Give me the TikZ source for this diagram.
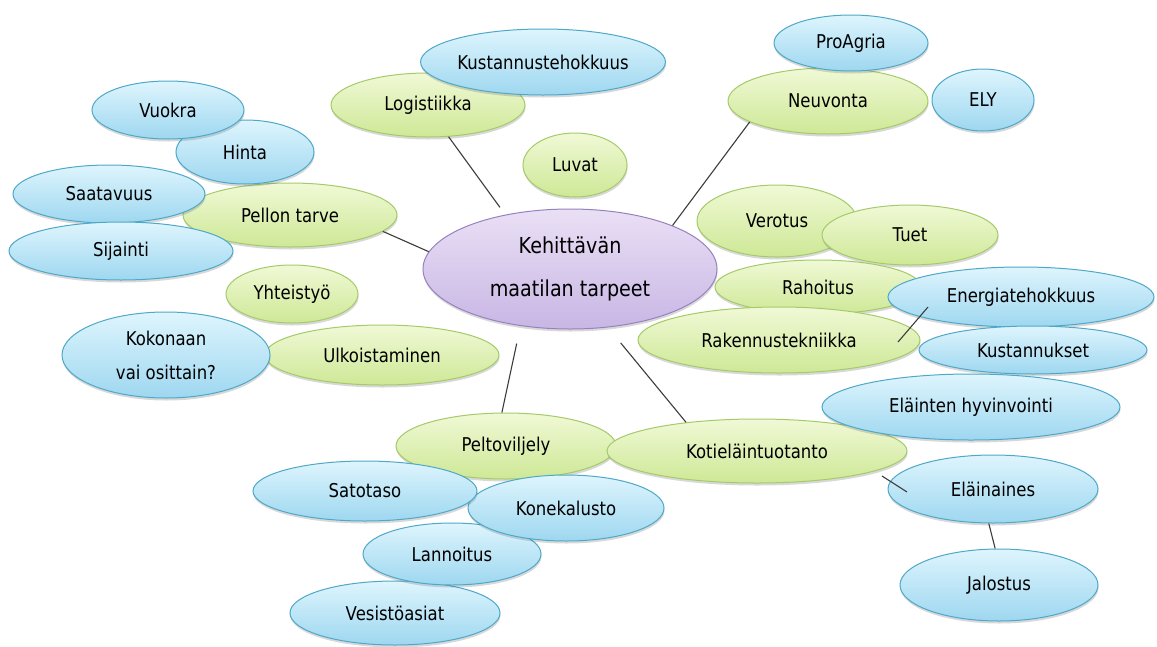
\documentclass[tikz,border=0pt]{standalone}
\usepackage{fontspec}
\setmainfont{DejaVu Sans}[FakeStretch=0.87]
\usetikzlibrary{shapes.geometric,shadows}
\definecolor{bluetop}{RGB}{222,245,253}
\definecolor{bluebot}{RGB}{158,215,240}
\definecolor{blueline}{RGB}{78,168,200}
\definecolor{greentop}{RGB}{240,249,214}
\definecolor{greenbot}{RGB}{206,232,150}
\definecolor{greenline}{RGB}{165,203,105}
\definecolor{purptop}{RGB}{234,224,245}
\definecolor{purpbot}{RGB}{200,182,228}
\definecolor{purpline}{RGB}{150,130,192}
\definecolor{connc}{RGB}{60,60,60}
\tikzset{
  bub/.style={ellipse, inner sep=1pt, line width=1pt, align=center,
    font=\fontsize{19}{34}\selectfont,
    drop shadow={shadow xshift=0.5pt, shadow yshift=-2.5pt, opacity=0.25, fill=black!60}},
  gb/.style={bub, draw=greenline, top color=greentop, bottom color=greenbot},
  bb/.style={bub, draw=blueline, top color=bluetop, bottom color=bluebot},
  pb/.style={bub, draw=purpline, top color=purptop, bottom color=purpbot,
    font=\fontsize{22}{43}\selectfont},
  sz/.style 2 args={minimum width=#1pt, minimum height=#2pt},
  conn/.style={draw=connc, line width=1.1pt}
}
\begin{document}
\begin{tikzpicture}[x=1pt,y=-1pt]
\useasboundingbox[fill=white] (0,0) rectangle (1157,646);
% central node
\node[pb, sz={294}{120}] (cen) at (570,269) {Kehittävän\\maatilan tarpeet};
% green nodes
\node[gb, sz={194}{64}] (log) at (428,105) {Logistiikka};
\node[gb, sz={104}{64}] (luv) at (575,165) {Luvat};
\node[gb, sz={200}{66}] (neu) at (828,101) {Neuvonta};
\node[gb, sz={220}{66}] (pv) at (506,446) {Peltoviljely};
\node[gb, sz={300}{64}] (kot) at (757,451) {Kotieläintuotanto};
\node[gb, sz={160}{72}] (ver) at (777,221) {Verotus};
\node[gb, sz={176}{60}] (tue) at (910,235) {Tuet};
\node[gb, sz={206}{54}] (rah) at (818,287) {Rahoitus};
\node[gb, sz={282}{66}] (rak) at (779,340) {Rakennustekniikka};
\node[gb, sz={214}{64}] (pel) at (290,215) {Pellon tarve};
\node[gb, sz={132}{58}] (yht) at (292,294) {Yhteistyö};
\node[gb, sz={234}{60}] (ulk) at (382,355) {Ulkoistaminen};
% blue nodes
\node[bb, sz={242}{66}] (kus) at (543,62) {Kustannustehokkuus};
\node[bb, sz={154}{56}] (pro) at (851,43) {ProAgria};
\node[bb, sz={102}{62}] (ely) at (983,100) {ELY};
\node[bb, sz={138}{64}] (hin) at (245,152) {Hinta};
\node[bb, sz={152}{58}] (vuo) at (168,110) {Vuokra};
\node[bb, sz={192}{58}] (saa) at (109,194) {Saatavuus};
\node[bb, sz={224}{58}] (sij) at (121,251) {Sijainti};
\node[bb, sz={208}{86}] (kok) at (166,355) {Kokonaan\\vai osittain?};
\node[bb, sz={266}{60}] (ene) at (1021,297) {Energiatehokkuus};
\node[bb, sz={228}{48}] (kst) at (1033,350) {Kustannukset};
\node[bb, sz={298}{66}] (elh) at (971,407) {Eläinten hyvinvointi};
\node[bb, sz={210}{64}] (ves) at (395,613) {Vesistöasiat};
\node[bb, sz={178}{62}] (lan) at (452,554) {Lannoitus};
\node[bb, sz={196}{66}] (kon) at (566,508) {Konekalusto};
\node[bb, sz={224}{60}] (sat) at (365,491) {Satotaso};
\node[bb, sz={210}{68}] (ela) at (993,489) {Eläinaines};
\node[bb, sz={198}{72}] (jal) at (999,585) {Jalostus};
% connectors
\draw[conn, shorten >=9pt] (log.-57) -- (cen.140);
\draw[conn] (neu.195) -- (cen.23);
\draw[conn] (pel.-10) -- (cen.173);
\draw[conn, shorten <=18pt] (cen.229) -- (pv.97);
\draw[conn, shorten <=20pt] (cen.303) -- (kot.158);
\draw[conn] ([xshift=125pt,yshift=-25pt]kot.center) -- ([xshift=-86pt,yshift=-3pt]ela.center);
\draw[conn] (ela.-97) -- (jal.96);
\draw[conn] ([xshift=119pt,yshift=-2pt]rak.center) -- ([xshift=-93pt,yshift=-10pt]ene.center);
\end{tikzpicture}
\end{document}
